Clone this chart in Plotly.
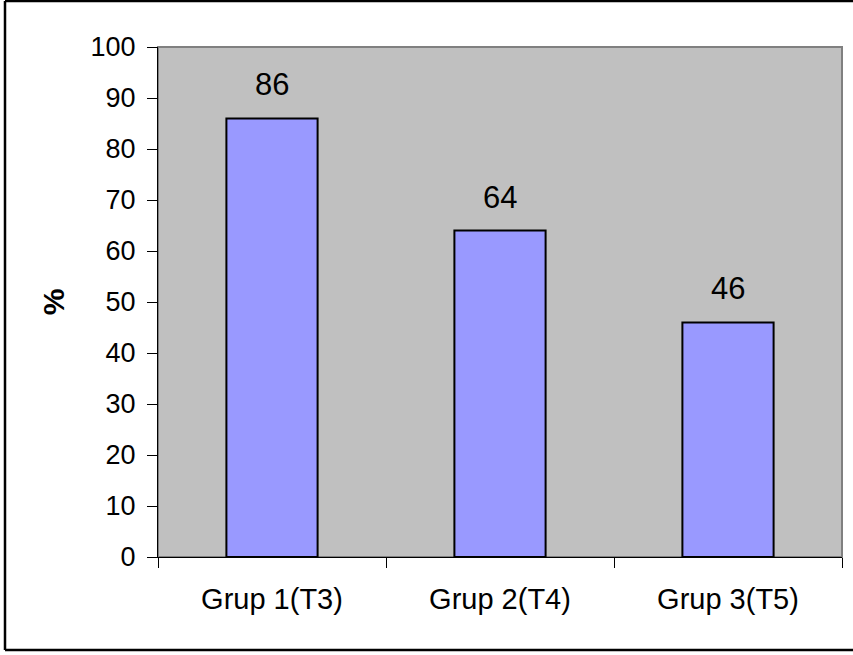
import plotly.graph_objects as go

# Chart data
categories = ["Grup 1(T3)", "Grup 2(T4)", "Grup 3(T5)"]
values = [86, 64, 46]
y_ticks = list(range(0, 101, 10))

W, H = 853, 655
L, R, T, B = 158, 11, 47, 98
pw, ph = W - L - R, H - T - B

def px_to_paper_x(px):
    return (px - L) / pw

def px_to_paper_y(py):
    return (H - B - py) / ph

FONT = "Liberation Sans, Arial, sans-serif"

fig = go.Figure()
fig.add_trace(go.Bar(
    x=categories,
    y=values,
    width=0.4,
    marker=dict(color="#9999FF", line=dict(color="black", width=2)),
    hoverinfo="x+y",
))

# value labels above each bar
for c, v in zip(categories, values):
    fig.add_annotation(
        x=c, y=v, text=str(v), showarrow=False,
        xref="x", yref="y", yanchor="bottom", yshift=14,
        font=dict(family=FONT, size=31, color="black"),
    )

# outer chart border: left, top and bottom edges
bx0, bx1 = px_to_paper_x(5), px_to_paper_x(853)
by0, by1 = px_to_paper_y(650), px_to_paper_y(1)
border = dict(color="black", width=2.5)

shapes = [
    # plot-area frame (top/right in grey)
    dict(type="rect", xref="paper", yref="paper", x0=0, x1=1, y0=0, y1=1,
         line=dict(color="#808080", width=2), layer="below"),
    dict(type="line", xref="paper", yref="paper", x0=bx0, x1=bx0, y0=by0, y1=by1, line=border),
    dict(type="line", xref="paper", yref="paper", x0=bx0, x1=bx1, y0=by1, y1=by1, line=border),
    dict(type="line", xref="paper", yref="paper", x0=bx0, x1=bx1, y0=by0, y1=by0, line=border),
]

fig.update_layout(
    width=W, height=H,
    margin=dict(l=L, r=R, t=T, b=B),
    paper_bgcolor="white",
    plot_bgcolor="#C0C0C0",
    showlegend=False,
    bargap=0.6,
    shapes=shapes,
    font=dict(family=FONT, color="black"),
)

fig.update_xaxes(
    type="category",
    range=[-0.5, 2.5],
    showgrid=False,
    showline=True, linecolor="black", linewidth=1,
    ticks="outside", ticklen=10, tickcolor="black", tickwidth=1,
    tickson="boundaries",
    tickfont=dict(family=FONT, size=29, color="black"),
    ticklabelstandoff=16,
    zeroline=False,
)

fig.update_yaxes(
    range=[0, 100],
    tickvals=y_ticks,
    showgrid=False,
    showline=True, linecolor="black", linewidth=1,
    ticks="outside", ticklen=10, tickcolor="black", tickwidth=1,
    tickfont=dict(family=FONT, size=27, color="black"),
    ticklabelstandoff=6,
    zeroline=False,
    title=dict(text="<b>%</b>", font=dict(family=FONT, size=30, color="black"), standoff=17),
)

fig.write_html("out.html")
